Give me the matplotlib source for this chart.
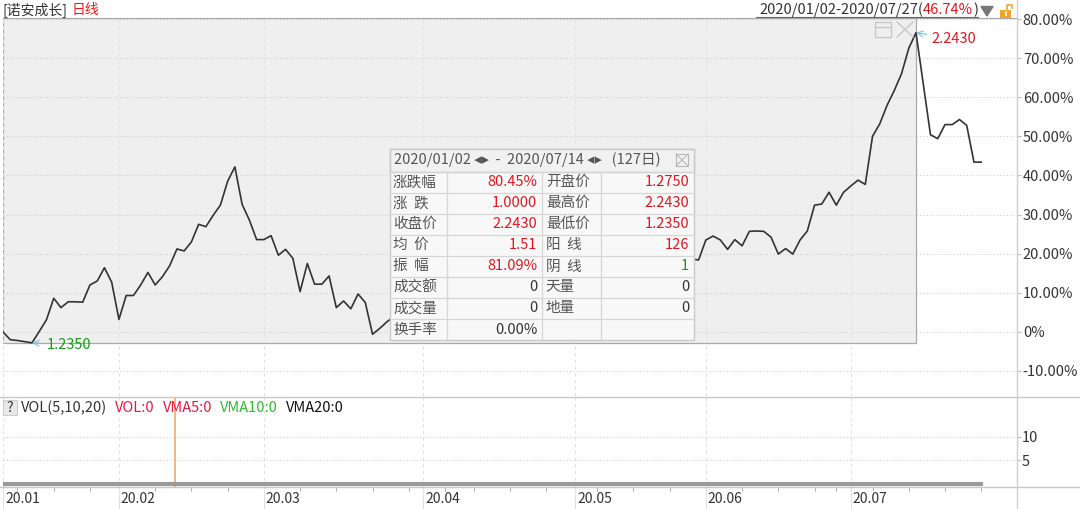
import numpy as np
import pandas as pd
import matplotlib
matplotlib.use("Agg")
import matplotlib.pyplot as plt
from matplotlib.patches import Rectangle, Polygon
from matplotlib.ticker import FuncFormatter
import matplotlib.transforms as mtransforms

plt.rcParams['font.family'] = ['Noto Sans CJK SC', 'DejaVu Sans']

# ---------------- data ----------------
fund_name = "[诺安成长]"
period_label = "日线"
range_text = "2020/01/02-2020/07/27("
range_pct = "46.74%"
start_date, end_date = "2020-01-02", "2020-07-27"
sel_end_date = "2020-07-14"
holidays = ["2020-01-24", "2020-01-27", "2020-01-28", "2020-01-29", "2020-01-30",
            "2020-01-31", "2020-04-06", "2020-05-01", "2020-05-04", "2020-05-05",
            "2020-06-25", "2020-06-26"]

# cumulative change (%) vs. first close, one value per trading day
jan = [0.0, -2.0, -2.2, -2.5, -2.8, 0.1, 3.1, 8.6, 6.2, 7.7, 7.7, 7.6, 12.0, 13.0, 16.4, 12.7]
feb = [3.2, 9.3, 9.3, 12.0, 15.2, 12.0, 14.1, 16.9, 21.2, 20.7,
       23.0, 27.5, 26.9, 29.8, 32.4, 38.5, 42.2, 32.6, 28.6, 23.6]
mar = [23.6, 24.6, 19.6, 21.1, 18.8, 10.3, 17.5, 12.2, 12.2, 14.3,
       6.2, 7.9, 5.9, 9.7, 7.5, -0.6, 0.9, 2.6, 4.0, 3.5, 5.5, 6.8]
apr = [5.0, 7.5, 9.0, 8.2, 10.5, 11.8, 11.0, 12.6, 14.2, 13.5,
       12.0, 13.8, 15.5, 14.6, 16.2, 17.5, 16.8, 15.2, 13.6, 14.9, 16.5]
may = [17.8, 19.2, 18.5, 20.1, 21.3, 20.2, 18.7, 17.6, 19.0, 20.4,
       19.5, 17.9, 18.8, 20.0, 19.3, 18.2, 18.6, 18.4]
jun = [23.5, 24.5, 23.5, 21.1, 23.6, 22.0, 25.7, 25.8, 25.7, 24.2,
       19.9, 21.3, 19.9, 23.5, 25.8, 32.4, 32.7, 35.7, 32.4, 35.7]
jul = [37.3, 38.8, 37.7, 50.0, 53.2, 57.9, 61.7, 66.0, 72.5, 76.5,
       63.4, 50.4, 49.4, 53.0, 53.0, 54.3, 52.8, 43.4, 43.4]
pct_change = jan + feb + mar + apr + may + jun + jul
volume = [0] * len(pct_change)
vol_cursor = 23.7

y_ticks = [-10, 0, 10, 20, 30, 40, 50, 60, 70, 80]
vol_ticks = [5, 10]
month_labels = ["20.01", "20.02", "20.03", "20.04", "20.05", "20.06", "20.07"]
low_label, high_label = "1.2350", "2.2430"

box_header = "2020/01/02 ◂▸  -  2020/07/14 ◂▸   (127日)"
box_left_labels = ["涨跌幅", "涨  跌", "收盘价", "均  价", "振  幅", "成交额", "成交量", "换手率"]
box_left_values = ["80.45%", "1.0000", "2.2430", "1.51", "81.09%", "0", "0", "0.00%"]
box_right_labels = ["开盘价", "最高价", "最低价", "阳  线", "阴  线", "天量", "地量", ""]
box_right_values = ["1.2750", "2.2430", "1.2350", "126", "1", "0", "0", ""]

vol_legend = ["VOL(5,10,20)", "VOL:0", "VMA5:0", "VMA10:0", "VMA20:0"]

# ---------------- colours ----------------
RED = "#e0171f"
GREEN = "#169a16"
DARK = "#333333"
GRAY_TXT = "#555555"
GRID = "#cfcfcf"
vol_legend_colors = [DARK, "#e8173f", "#e8173f", "#2cbd2c", "#111111"]
box_lv_colors = [RED, RED, RED, RED, RED, DARK, DARK, DARK]
box_rv_colors = [RED, RED, RED, RED, GREEN, DARK, DARK, DARK]

# ---------------- calendar ----------------
dates = pd.bdate_range(start_date, end_date)
dates = dates[~dates.isin(pd.to_datetime(holidays))]
idx = np.arange(len(dates))
vals = np.array(pct_change)
month_idx = [i for i in idx if i == 0 or dates[i].month != dates[i - 1].month]
week_idx = [i for i in idx if i > 0 and dates[i].weekday() < dates[i - 1].weekday()
            and i not in month_idx]
sel_idx = int(np.where(dates == pd.Timestamp(sel_end_date))[0][0])
peak_i = int(np.argmax(vals[:sel_idx + 1]))
low_i = int(np.argmin(vals[:sel_idx + 1]))

# ---------------- figure ----------------
W, H = 1080, 509
fig = plt.figure(figsize=(W / 100, H / 100), dpi=100)
fig.patch.set_facecolor("white")

x_left, x_right = 3, 1016.5
px_day = 7.246
xlim = (0, (x_right - x_left) / px_day)

ax = fig.add_axes([x_left / W, 1 - 396 / H, (x_right - x_left) / W, (396 - 18) / H])
axv = fig.add_axes([x_left / W, 1 - 487 / H, (x_right - x_left) / W, (487 - 397) / H])

# main panel
px_pct = 3.911
ytop = 80 + 1 / px_pct
ybot = -10 - 25 / px_pct
ax.set_xlim(*xlim)
ax.set_ylim(ybot, ytop)
ax.set_axisbelow(True)
ax.add_patch(Rectangle((xlim[0], vals[low_i]), sel_idx - xlim[0], ytop - vals[low_i],
                       facecolor="#efefef", edgecolor="#a9a9a9", lw=0.9, zorder=0))
ax.plot(idx, vals, color="#333333", lw=1.2, zorder=3)
ax.set_yticks(y_ticks)
ax.yaxis.tick_right()
ax.yaxis.set_major_formatter(FuncFormatter(lambda v, p: "0%" if v == 0 else f"{v:.2f}%"))
ax.tick_params(axis="y", length=3, color="#c0c0c0", pad=1.5, labelsize=10.5, labelcolor=DARK)
ax.set_xticks(month_idx)
ax.tick_params(axis="x", length=0, labelbottom=False)
ax.yaxis.grid(True, ls=(0, (1, 2)), color=GRID, lw=0.8)
ax.xaxis.grid(True, ls=(0, (3, 3)), color="#e2e2e2", lw=0.8)
for s in ["left", "bottom"]:
    ax.spines[s].set_visible(False)
ax.spines["top"].set_color("#a9a9a9")
ax.spines["right"].set_color("#d0d0d0")

ax.annotate(high_label, xy=(peak_i, vals[peak_i]), xytext=(15, -6), textcoords="offset pixels",
            color=RED, fontsize=10.5, va="center", ha="left",
            arrowprops=dict(arrowstyle="->", color="#7cc0e2", lw=0.8, shrinkA=1, shrinkB=0))
ax.annotate(low_label, xy=(low_i, vals[low_i]), xytext=(15, -2), textcoords="offset pixels",
            color=GREEN, fontsize=10.5, va="center", ha="left",
            arrowprops=dict(arrowstyle="->", color="#7cc0e2", lw=0.8, shrinkA=1, shrinkB=0))

# volume panel
axv.set_xlim(*xlim)
axv.set_ylim(-0.64, 18.51)
axv.set_axisbelow(True)
axv.plot(idx, volume, color="#9a9a9a", lw=3, solid_capstyle="projecting", zorder=3)
axv.axvline(vol_cursor, color="#f7a050", lw=1.1, zorder=2)
axv.set_yticks(vol_ticks)
axv.yaxis.tick_right()
axv.tick_params(axis="y", length=3, color="#c0c0c0", pad=1.0, labelsize=10.5, labelcolor=DARK)
axv.yaxis.grid(True, ls=(0, (1, 2)), color=GRID, lw=0.8)
axv.set_xticks(month_idx)
axv.set_xticklabels(month_labels)
axv.set_xticks(week_idx, minor=True)
axv.xaxis.grid(True, which="major", ls=(0, (3, 3)), color="#e2e2e2", lw=0.8)
axv.tick_params(axis="x", which="major", length=16, color="#e2e2e2", pad=-12.5,
                labelsize=10, labelcolor=DARK)
axv.tick_params(axis="x", which="minor", length=3, color="#a0a0a0")
shift = mtransforms.ScaledTranslation(2 / 100, 0, fig.dpi_scale_trans)
for lbl in axv.get_xticklabels():
    lbl.set_ha("left")
    lbl.set_transform(lbl.get_transform() + shift)
for s in ["left", "top"]:
    axv.spines[s].set_visible(False)
axv.spines["bottom"].set_color("#c0c0c0")
axv.spines["right"].set_color("#d0d0d0")

# ---------------- overlay (UI chrome) in pixel coordinates ----------------
ov = fig.add_axes([0, 0, 1, 1], zorder=10)
ov.set_xlim(0, W)
ov.set_ylim(H, 0)
ov.axis("off")
ov.patch.set_visible(False)

# separators
ov.plot([0, W], [396.5, 396.5], color="#c8c8c8", lw=1)
ov.plot([0, W], [487, 487], color="#c8c8c8", lw=1)
ov.plot([x_right, x_right], [0, H], color="#d0d0d0", lw=1)

# title row
ov.text(3, 10, fund_name, color=DARK, fontsize=10, va="center", ha="left")
ov.text(72, 10, period_label, color="#f01818", fontsize=10, va="center", ha="left")
t3 = ov.text(978, 10, ")", color=DARK, fontsize=10.5, va="center", ha="right")
t2 = ov.annotate(range_pct, xy=(0, 0.5), xycoords=t3, color=RED, fontsize=10.5, va="center", ha="right")
t1 = ov.annotate(range_text, xy=(0, 0.5), xycoords=t2, color=DARK, fontsize=10.5, va="center", ha="right")
ov.plot([756, 978], [17, 17], color="#666666", lw=0.8)
ov.add_patch(Polygon([(981, 6.5), (993, 6.5), (987, 16)], closed=True, color="#777777"))
ov.add_patch(Rectangle((1000, 9.5), 11, 8, facecolor="#f0a52a", edgecolor="none"))
ov.plot([1005.5, 1005.5], [12, 15], color="white", lw=1.2)
ov.plot([1007, 1007, 1012, 1012], [9.5, 5, 5, 8], color="#f0a52a", lw=1.2)

# window / close icons in the selection
ic = "#c8c8c8"
ov.add_patch(Rectangle((875, 22), 16, 15, facecolor="none", edgecolor=ic, lw=1))
ov.plot([875, 891], [26.5, 26.5], color=ic, lw=1)
ov.plot([897, 913], [22, 37], color=ic, lw=1)
ov.plot([897, 913], [37, 22], color=ic, lw=1)

# info box
bx0, bx1, by0, bhead = 389.5, 694, 148.5, 171.7
row_h = 21.04
cols = [389.5, 447.3, 542.3, 600.7, 694]
nrows = len(box_left_labels)
by1 = bhead + nrows * row_h
ov.add_patch(Rectangle((bx0, by0), bx1 - bx0, by1 - by0, facecolor="#f8f8f8",
                       edgecolor="#c8c8c8", lw=1))
ov.add_patch(Rectangle((bx0, by0), bx1 - bx0, bhead - by0, facecolor="#f1f1f1",
                       edgecolor="#c8c8c8", lw=1))
for r in range(nrows):
    yy = bhead + r * row_h
    ov.plot([bx0, bx1], [yy, yy], color="#d6d6d6", lw=0.9)
for cx in cols[1:-1]:
    ov.plot([cx, cx], [bhead, by1], color="#d6d6d6", lw=0.9)
ov.text(394, 160, box_header, color=GRAY_TXT, fontsize=10.5, va="center", ha="left")
ov.add_patch(Rectangle((676, 154), 12, 12, facecolor="none", edgecolor="#b8b8b8", lw=0.8))
ov.plot([676, 688], [154, 166], color="#b8b8b8", lw=0.8)
ov.plot([676, 688], [166, 154], color="#b8b8b8", lw=0.8)
for r in range(nrows):
    yc = bhead + (r + 0.5) * row_h
    ov.text(cols[0] + 3.5, yc, box_left_labels[r], color=GRAY_TXT, fontsize=10.5, va="center", ha="left")
    ov.text(cols[2] - 5, yc, box_left_values[r], color=box_lv_colors[r], fontsize=10.5, va="center", ha="right")
    ov.text(cols[2] + 3.5, yc, box_right_labels[r], color=GRAY_TXT, fontsize=10.5, va="center", ha="left")
    ov.text(cols[4] - 5, yc, box_right_values[r], color=box_rv_colors[r], fontsize=10.5, va="center", ha="right")

# volume legend
ov.add_patch(Rectangle((3, 400), 14, 15, facecolor="#e9e9e9", edgecolor="#cccccc", lw=0.8))
ov.text(10, 407.5, "?", color=DARK, fontsize=10, va="center", ha="center")
prev = ov.text(21, 407.5, vol_legend[0], color=vol_legend_colors[0], fontsize=10.5, va="center", ha="left")
for txt, col in zip(vol_legend[1:], vol_legend_colors[1:]):
    prev = ov.annotate(txt, xy=(1, 0.5), xycoords=prev, xytext=(8, 0), textcoords="offset pixels",
                       color=col, fontsize=10.5, va="center", ha="left")

fig.savefig("out.png", dpi=100, facecolor="white")
